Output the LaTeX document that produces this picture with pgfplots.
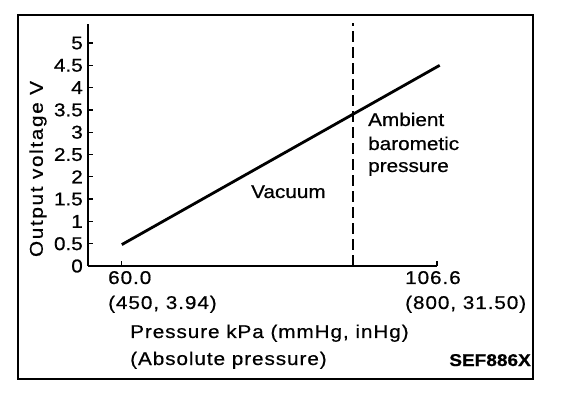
\documentclass[border=0pt]{standalone}
\usepackage{pgfplots}
\pgfplotsset{compat=1.18}
\usepackage{fontspec}
\setmainfont{Liberation Sans}[FakeStretch=1.12, FakeBold=0.6]
\newfontfamily\wideA{Liberation Sans}[FakeStretch=1.12, FakeBold=0.6, LetterSpace=5]
\newfontfamily\wideB{Liberation Sans}[FakeStretch=1.12, FakeBold=0.6, LetterSpace=9]
\newcommand{\fs}{\fontsize{18.5bp}{22bp}\selectfont}
\begin{document}
\begin{tikzpicture}
\useasboundingbox (0bp,0bp) rectangle (576bp,394bp);
\draw[line width=2bp] (18bp,15bp) rectangle (533bp,379bp);
\begin{axis}[
  at={(88bp,128bp)}, anchor=south west,
  scale only axis, width=349bp, height=241.7bp,
  xmin=55, xmax=106.6, ymin=0, ymax=5.42,
  axis x line=bottom, axis y line=left,
  axis line style={line width=1.8bp, -},
  xtick={60,94.2,106.6}, xticklabels={},
  ytick={0,0.5,...,5},
  tick align=inside,
  tick style={line width=1.3bp, black},
  major tick length=5bp,
  yticklabel style={font=\fs, inner sep=0pt, xshift=-5bp, /pgf/number format/assume math mode=true},
  clip=false,
]
\addplot[line width=2.8bp] coordinates {(60,0.48) (107,4.5)};
\addplot[line width=2.2bp, dash pattern=on 11bp off 5bp] coordinates {(94.2,0) (94.2,5.45)};
\end{axis}
\begin{scope}[every node/.style={inner sep=0pt}]
\node[rotate=90] at (38bp,225bp) {\fs\wideB Output voltage V};
\node[anchor=base west] at (108bp,110bp) {\fs\wideA 60.0};
\node[anchor=base west] at (108bp,85bp) {\fs\wideA (450, 3.94)};
\node[anchor=base west] at (405bp,110bp) {\fs\wideA 106.6};
\node[anchor=base west] at (405bp,85bp) {\fs\wideA (800, 31.50)};
\node[anchor=base west] at (130bp,56bp) {\fs\wideA Pressure kPa (mmHg, inHg)};
\node[anchor=base west] at (130bp,29bp) {\fs\wideA (Absolute pressure)};
\node[anchor=base east] at (531bp,28bp) {\fontsize{17bp}{20bp}\selectfont\bfseries SEF886X};
\node[anchor=base west] at (251bp,196bp) {\fs Vacuum};
\node[anchor=base west] at (368bp,268bp) {\fs Ambient};
\node[anchor=base west] at (368bp,244bp) {\fs barometic};
\node[anchor=base west] at (368bp,222bp) {\fs pressure};
\end{scope}
\end{tikzpicture}
\end{document}
